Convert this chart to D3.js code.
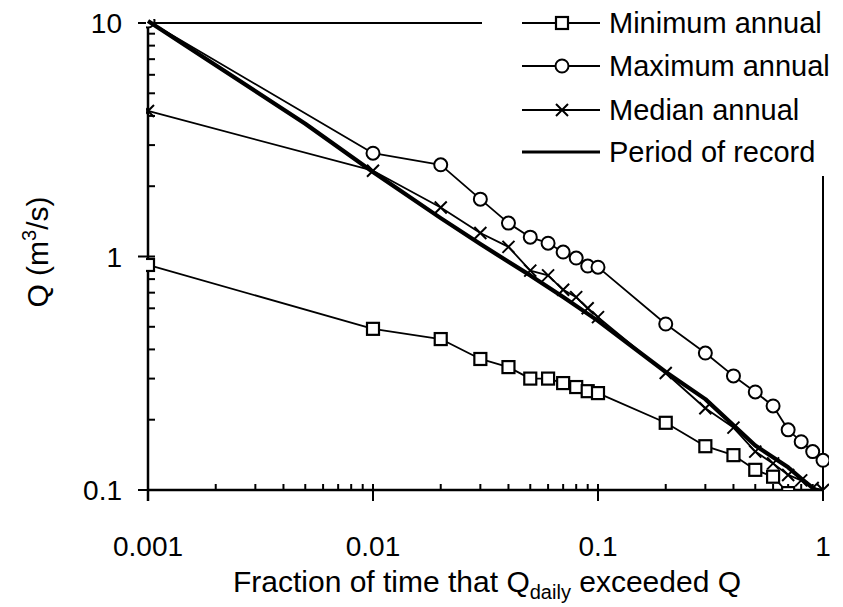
<!DOCTYPE html>
<html>
<head>
<meta charset="utf-8">
<script src="https://cdn.jsdelivr.net/npm/d3@7/dist/d3.min.js"></script>
<style>
  body { margin: 0; background: #fff; }
  svg { display: block; font-family: 'Liberation Sans', Arial, sans-serif; }
  .tick-label { font-size: 28px; fill: #000; }
  .legend-text { font-size: 29px; fill: #000; }
  .axis-title { font-size: 30px; fill: #000; }
</style>
</head>
<body>
<div id="chart"></div>
<script>
// fractions of time each flow was exceeded
const minFrac = [0.001, 0.01, 0.02, 0.03, 0.04, 0.05, 0.06, 0.07, 0.08, 0.09, 0.1, 0.2, 0.3, 0.4, 0.5, 0.6, 0.7];
const minQ    = [0.92, 0.49, 0.443, 0.364, 0.336, 0.30, 0.30, 0.287, 0.276, 0.265, 0.26, 0.194, 0.154, 0.141, 0.122, 0.114, 0.097];

const maxFrac = [0.001, 0.01, 0.02, 0.03, 0.04, 0.05, 0.06, 0.07, 0.08, 0.09, 0.1, 0.2, 0.3, 0.4, 0.5, 0.6, 0.7, 0.8, 0.9, 1.0];
const maxQ    = [10.2, 2.77, 2.47, 1.76, 1.39, 1.21, 1.14, 1.045, 0.985, 0.91, 0.9, 0.514, 0.386, 0.308, 0.263, 0.229, 0.181, 0.161, 0.146, 0.134];

const medFrac = [0.001, 0.01, 0.02, 0.03, 0.04, 0.05, 0.06, 0.07, 0.08, 0.09, 0.1, 0.2, 0.3, 0.4, 0.5, 0.6, 0.7, 0.8, 0.9, 1.0];
const medQ    = [4.2, 2.33, 1.62, 1.26, 1.1, 0.87, 0.83, 0.72, 0.67, 0.6, 0.55, 0.317, 0.224, 0.185, 0.146, 0.13, 0.116, 0.11, 0.102, 0.1];

const porFrac = [0.001, 0.002, 0.005, 0.01, 0.02, 0.03, 0.05, 0.07, 0.1, 0.2, 0.3, 0.5, 0.7, 0.8, 0.9, 1.0];
const porQ    = [10.2, 6.6, 3.7, 2.3, 1.46, 1.13, 0.83, 0.67, 0.53, 0.32, 0.245, 0.155, 0.125, 0.112, 0.102, 0.095];

const xTicks = [0.001, 0.01, 0.1, 1];
const xTickLabels = ['0.001', '0.01', '0.1', '1'];
const yTicks = [0.1, 1, 10];
const yTickLabels = ['0.1', '1', '10'];

const legendNames = ['Minimum annual', 'Maximum annual', 'Median annual', 'Period of record'];

const W = 843, H = 607;
const margin = { top: 23, right: 20, bottom: 117, left: 148 };
const width = W - margin.left - margin.right;
const height = H - margin.top - margin.bottom;

const svg = d3.select('#chart').append('svg')
  .attr('width', W)
  .attr('height', H);

const defs = svg.append('defs');
defs.append('clipPath').attr('id', 'plot-clip')
  .append('rect').attr('x', -2).attr('y', -4).attr('width', width + 8).attr('height', height + 4);

const g = svg.append('g')
  .attr('transform', `translate(${margin.left},${margin.top})`);

const x = d3.scaleLog().domain([0.001, 1]).range([0, width]);
const y = d3.scaleLog().domain([0.1, 10]).range([height, 0]);

// minor ticks 2..9 in each decade
const minorX = [];
[0.001, 0.01, 0.1].forEach(d => { for (let k = 2; k <= 9; k++) minorX.push(d * k); });
const minorY = [];
[0.1, 1].forEach(d => { for (let k = 2; k <= 9; k++) minorY.push(d * k); });

// frame (top and right)
g.append('line').attr('x1', 0).attr('x2', width).attr('y1', 0).attr('y2', 0)
  .attr('stroke', '#000').attr('stroke-width', 2);
g.append('line').attr('x1', width).attr('x2', width).attr('y1', 0).attr('y2', height + 11)
  .attr('stroke', '#000').attr('stroke-width', 2);

// X axis
const xAxis = g.append('g').attr('transform', `translate(0,${height})`);
xAxis.append('line').attr('x1', 0).attr('x2', width)
  .attr('stroke', '#000').attr('stroke-width', 2.5);
xAxis.selectAll('.minor').data(minorX).join('line')
  .attr('x1', d => x(d)).attr('x2', d => x(d))
  .attr('y1', 0).attr('y2', -6)
  .attr('stroke', '#000').attr('stroke-width', 2);
xAxis.selectAll('.major').data(xTicks).join('line')
  .attr('x1', d => x(d)).attr('x2', d => x(d))
  .attr('y1', -6).attr('y2', 11)
  .attr('stroke', '#000').attr('stroke-width', 2);
xAxis.selectAll('text').data(xTicks).join('text')
  .attr('class', 'tick-label')
  .attr('x', d => x(d)).attr('y', 66)
  .attr('text-anchor', 'middle')
  .text((d, i) => xTickLabels[i]);

// Y axis
const yAxis = g.append('g');
yAxis.append('line').attr('y1', 0).attr('y2', height + 11)
  .attr('stroke', '#000').attr('stroke-width', 2.5);
yAxis.selectAll('.minor').data(minorY).join('line')
  .attr('y1', d => y(d)).attr('y2', d => y(d))
  .attr('x1', 0).attr('x2', 7)
  .attr('stroke', '#000').attr('stroke-width', 2);
yAxis.selectAll('.major').data(yTicks).join('line')
  .attr('y1', d => y(d)).attr('y2', d => y(d))
  .attr('x1', -10).attr('x2', 7)
  .attr('stroke', '#000').attr('stroke-width', 2);
yAxis.selectAll('text').data(yTicks).join('text')
  .attr('class', 'tick-label')
  .attr('x', -26).attr('y', d => y(d) + 10)
  .attr('text-anchor', 'end')
  .text((d, i) => yTickLabels[i]);

// series
const makePts = (fr, q) => fr.map((f, i) => ({ f, q: q[i] }));
const line = d3.line().x(d => x(d.f)).y(d => y(d.q));
const plot = g.append('g').attr('clip-path', 'url(#plot-clip)');

const series = [
  { pts: makePts(minFrac, minQ), marker: 'square', sw: 1.8 },
  { pts: makePts(maxFrac, maxQ), marker: 'circle', sw: 1.8 },
  { pts: makePts(medFrac, medQ), marker: 'cross', sw: 1.8 },
  { pts: makePts(porFrac, porQ), marker: null, sw: 4.2 }
];

function drawMarker(sel, type) {
  if (type === 'square') {
    sel.append('rect').attr('x', -6).attr('y', -6).attr('width', 12).attr('height', 12)
      .attr('fill', '#fff').attr('stroke', '#000').attr('stroke-width', 2.2);
  } else if (type === 'circle') {
    sel.append('circle').attr('r', 6.5)
      .attr('fill', '#fff').attr('stroke', '#000').attr('stroke-width', 2);
  } else if (type === 'cross') {
    sel.append('path').attr('d', 'M-6,-6L6,6M-6,6L6,-6')
      .attr('stroke', '#000').attr('stroke-width', 2).attr('fill', 'none');
  }
}

series.forEach(s => {
  plot.append('path').datum(s.pts)
    .attr('d', line)
    .attr('fill', 'none').attr('stroke', '#000')
    .attr('stroke-width', s.sw).attr('stroke-linejoin', 'round');
  if (s.marker) {
    plot.selectAll(null).data(s.pts).join('g')
      .attr('transform', d => `translate(${x(d.f)},${y(d.q)})`)
      .each(function () { drawMarker(d3.select(this), s.marker); });
  }
});

// legend (white box over top-right of the frame)
const legend = svg.append('g');
legend.append('rect').attr('x', 482).attr('y', 0).attr('width', W - 482).attr('height', 176)
  .attr('fill', '#fff');
const rowY = [23, 66, 110, 152];
const markers = ['square', 'circle', 'cross', null];
legendNames.forEach((name, i) => {
  const row = legend.append('g').attr('transform', `translate(0,${rowY[i]})`);
  row.append('line').attr('x1', 522).attr('x2', 600).attr('y1', 0).attr('y2', 0)
    .attr('stroke', '#000').attr('stroke-width', i === 3 ? 3 : 1.8);
  if (markers[i]) {
    const m = row.append('g').attr('transform', 'translate(562,0)');
    drawMarker(m, markers[i]);
  }
  row.append('text').attr('class', 'legend-text')
    .attr('x', 609).attr('y', 10).text(name);
});

// axis titles
const xt = svg.append('text').attr('class', 'axis-title')
  .attr('x', 487).attr('y', 592).attr('text-anchor', 'middle');
xt.append('tspan').text('Fraction of time that Q');
xt.append('tspan').attr('dy', 7).style('font-size', '20px').text('daily');
xt.append('tspan').attr('dy', -7).text(' exceeded Q');

const yt = svg.append('text').attr('class', 'axis-title')
  .attr('transform', 'translate(48,252) rotate(-90)')
  .attr('text-anchor', 'middle');
yt.append('tspan').text('Q (m');
yt.append('tspan').attr('dy', -12).style('font-size', '20px').text('3');
yt.append('tspan').attr('dy', 12).text('/s)');
</script>
</body>
</html>
